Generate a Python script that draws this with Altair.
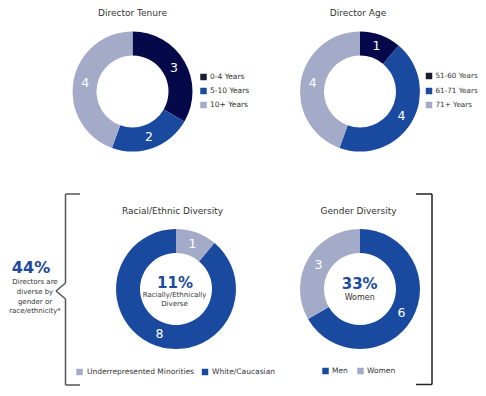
import altair as alt
import pandas as pd

# ---------------- data ----------------
tenure_cats = ["0-4 Years", "5-10 Years", "10+ Years"]
tenure_vals = [3, 2, 4]

age_cats = ["51-60 Years", "61-71 Years", "71+ Years"]
age_vals = [1, 4, 4]

race_cats = ["Underrepresented Minorities", "White/Caucasian"]
race_vals = [1, 8]

gender_cats = ["Men", "Women"]
gender_vals = [6, 3]

NAVY = "#05094a"
BLUE = "#1a4aa0"
LIGHT = "#a4abc9"
LEG_DARK = "#1b1d2e"
TXT = "#333333"
ACCENT = "#1e4a9c"
FONT = "DejaVu Sans"

W, H = 470, 380
R_OUT, R_IN, R_LAB = 60, 36, 48


def donut(cats, vals, colors, cx, cy):
    df = pd.DataFrame({"cat": cats, "val": vals, "i": list(range(len(cats)))})
    base = alt.Chart(df).encode(
        theta=alt.Theta("val:Q", stack=True, scale=alt.Scale(domain=[0, sum(vals)])),
        order=alt.Order("i:Q"),
        x=alt.value(cx),
        y=alt.value(cy),
    )
    arc = base.mark_arc(innerRadius=R_IN, outerRadius=R_OUT, stroke=None).encode(
        color=alt.Color("cat:N", scale=alt.Scale(domain=cats, range=colors), legend=None)
    )
    txt = base.mark_text(radius=R_LAB, font=FONT, fontSize=12.5, color="white").encode(
        text="val:Q"
    )
    return alt.layer(arc, txt)


def text(s, x, y, size=7.5, color=TXT, weight="normal", align="center"):
    return alt.Chart(pd.DataFrame({"t": [s]})).mark_text(
        font=FONT, fontSize=size, color=color, fontWeight=weight, align=align,
        baseline="middle"
    ).encode(text="t:N", x=alt.value(x), y=alt.value(y))


def legend_item(label, color, sx, tx, y, size=7.5):
    sq = alt.Chart(pd.DataFrame({"t": [label]})).mark_square(
        size=42, color=color, opacity=1
    ).encode(x=alt.value(sx), y=alt.value(y))
    return alt.layer(sq, text(label, tx, y, size=size, align="left"))


def rule(x, y, x2, y2, color="#444444", w=1.5):
    return alt.Chart(pd.DataFrame({"a": [0]})).mark_rule(
        color=color, strokeWidth=w
    ).encode(x=alt.value(x), y=alt.value(y), x2=alt.value(x2), y2=alt.value(y2))


layers = []

# donuts
layers.append(donut(tenure_cats, tenure_vals, [NAVY, BLUE, LIGHT], 124.5, 83.5))
layers.append(donut(age_cats, age_vals, [NAVY, BLUE, LIGHT], 352, 83.5))
layers.append(donut(race_cats, race_vals, [LIGHT, BLUE], 168, 281))
layers.append(donut(gender_cats, gender_vals, [BLUE, LIGHT], 352, 281))

# titles
layers.append(text("Director Tenure", 124.5, 5, size=9))
layers.append(text("Director Age", 350, 5, size=9))
layers.append(text("Racial/Ethnic Diversity", 164.5, 203, size=9))
layers.append(text("Gender Diversity", 350.5, 203, size=9))

# legends
for c, col, yy in zip(tenure_cats, [LEG_DARK, BLUE, LIGHT], [69, 83, 97]):
    layers.append(legend_item(c, col, 195.5, 202, yy))
for c, col, yy in zip(age_cats, [LEG_DARK, BLUE, LIGHT], [68, 83, 97]):
    layers.append(legend_item(c, col, 421, 427.5, yy, size=7.2))
layers.append(legend_item(race_cats[0], LIGHT, 71.5, 79, 364))
layers.append(legend_item(race_cats[1], BLUE, 197, 204, 364))
layers.append(legend_item(gender_cats[0], BLUE, 317.5, 324, 363))
layers.append(legend_item(gender_cats[1], LIGHT, 352.5, 359, 363))

# center texts
layers.append(text("11%", 167, 275, size=15, color=ACCENT, weight="bold"))
layers.append(text("Racially/Ethnically", 166.5, 286.5, size=7))
layers.append(text("Diverse", 166.5, 296, size=7))
layers.append(text("33%", 351.7, 276, size=15, color=ACCENT, weight="bold"))
layers.append(text("Women", 351.7, 290, size=8))

# left annotation
layers.append(text("44%", 23, 260, size=16, color=ACCENT, weight="bold"))
for s, yy in zip(["Directors are", "diverse by", "gender or", "race/ethnicity*"],
                 [274, 284, 293.5, 303]):
    layers.append(text(s, 27, yy, size=7))

# left bracket
LB = "#555555"
layers.append(rule(57.5, 186, 72, 186, LB))
layers.append(rule(57.5, 186, 57.5, 275, LB))
layers.append(rule(57.5, 275, 48, 283, LB))
layers.append(rule(48, 283, 57.5, 291, LB))
layers.append(rule(57.5, 291, 57.5, 377, LB))
layers.append(rule(57.5, 377, 72, 377, LB))

# right bracket
RB = "#222222"
layers.append(rule(408, 186, 424, 186, RB))
layers.append(rule(424, 186, 424, 376.5, RB))
layers.append(rule(408, 376.5, 424, 376.5, RB))

chart = alt.layer(*layers).resolve_scale(
    color="independent", theta="independent"
).properties(
    width=W, height=H, autosize=alt.AutoSizeParams(type="none"), padding=0
).configure_view(stroke=None)

chart.save("out.html", embed_options={"renderer": "svg", "actions": False})
